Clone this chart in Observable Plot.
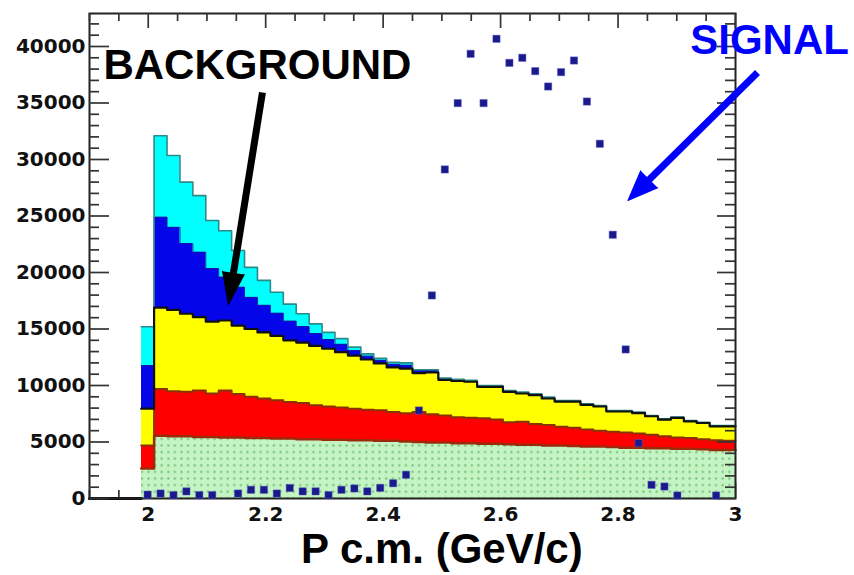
<!DOCTYPE html>
<html>
<head>
<meta charset="utf-8">
<script src="https://cdn.jsdelivr.net/npm/d3@7"></script>
<script src="https://cdn.jsdelivr.net/npm/@observablehq/plot@0.6"></script>
<style>
  html, body { margin: 0; padding: 0; background: #ffffff; }
  #chart { width: 854px; height: 575px; }
</style>
</head>
<body>
<div id="chart"></div>
<script>
// ---- Data (P c.m. histogram, 50 bins of 0.022 GeV/c from 1.9 to 3.0) ----
const binLo = [1.900, 1.922, 1.944, 1.966, 1.988, 2.010, 2.032, 2.054, 2.076, 2.098,
               2.120, 2.142, 2.164, 2.186, 2.208, 2.230, 2.252, 2.274, 2.296, 2.318,
               2.340, 2.362, 2.384, 2.406, 2.428, 2.450, 2.472, 2.494, 2.516, 2.538,
               2.560, 2.582, 2.604, 2.626, 2.648, 2.670, 2.692, 2.714, 2.736, 2.758,
               2.780, 2.802, 2.824, 2.846, 2.868, 2.890, 2.912, 2.934, 2.956, 2.978];
const binWidth = 0.022;

// stacked background components (bottom to top)
const bkgGreen  = [0,0,0,0, 2650, 5550,5500,5500,5450,5450, 5400,5400,5350,5350,5300,
                   5300,5250,5250,5200,5200, 5150,5150,5100,5100,5050, 5000,4950,4950,4900,4900,
                   4850,4850,4800,4750,4750, 4700,4700,4650,4600,4600, 4550,4500,4500,4450,4450,
                   4400,4400,4350,4300,4300];
const bkgRed    = [0,0,0,0, 2050, 4150,4000,3950,4100,3850, 4150,3850,3650,3500,3400,
                   3250,3200,3000,2950,2850, 2800,2700,2700,2550,2500, 2650,2500,2400,2300,2250,
                   2250,2150,1950,2050,1850, 1800,1650,1600,1500,1400, 1350,1350,1250,1200,1050,
                   1000,950,900,850,800];
const bkgYellow = [0,0,0,0, 3250, 7200,7200,6900,6500,6350, 6200,6050,6000,5850,5700,
                   5450,5350,5250,5100,4900, 4700,4450,4150,3950,3950, 3450,3700,3150,3200,3180,
                   2780,2880,2690,2490,2540, 2350,2230,2330,2190,2140, 1800,1850,1800,1630,1480,
                   1730,1480,1430,1240,1290];
const bkgBlue   = [0,0,0,0, 3800, 8000,7300,6200,5750,4700, 3850,3400,2800,2400,2000,
                   1700,1400,1100,800,700, 450,300,280,280,300, 200,170,100,100,80,
                   80,80,80,80,80, 80,60,60,60,60, 60,60,60,50,50,
                   50,50,50,50,50];
const bkgCyan   = [0,0,0,0, 3450, 7200,6350,5450,5000,4250, 4100,3250,2650,2200,1850,
                   1500,1150,850,650,500, 300,200,170,170,200, 100,80,50,50,40,
                   40,40,40,40,40, 40,30,30,30,30, 30,30,30,20,20,
                   20,20,20,20,20];

// signal points (one per bin, null = not shown)
const signal = [null,null,null,null, 340, 440,300,630,300,300, null,440,770,770,440,
                930,630,630,300,770, 890,630,940,1350,2100, 7790,17970,29120,34990,39350,
                34990,40680,38550,39000,37820, 36460,37730,38760,35130,31390, 23340,13190,4900,1210,1060,
                265,null,null,265,null];

// axes
const xTicks = [2, 2.2, 2.4, 2.6, 2.8, 3];
const yTicks = [0, 5000, 10000, 15000, 20000, 25000, 30000, 35000, 40000];
const xTitle = "P c.m. (GeV/c)";

// annotations
const labels = [
  {text: "BACKGROUND", x: 2.186, y: 38320, color: "#000000"},
  {text: "SIGNAL",     x: 3.058, y: 40530, color: "#0000ff"}
];
const arrows = [
  {x1: 2.1945, y1: 35930, x2: 2.1365, y2: 17170, rotate: 189, cut: 0.10, color: "#000000", head: 32, half: 11},
  {x1: 3.0375, y1: 37700, x2: 2.8169, y2: 26370, rotate: 225, cut: 0.12, color: "#0000ff", head: 30, half: 12}
];

// ---- styling ----
const layers = [bkgGreen, bkgRed, bkgYellow, bkgBlue, bkgCyan];
const layerFill = ["url(#dots)", "#ff0000", "#ffff00", "#0505ea", "#00ffff"];
const layerLine = ["#9a2a0a", "#8a3300", "#111111", "#1a1aa0", "#2a8a8a"];
const layerLineWidth = [2.5, 2, 2.2, 1, 1.6];
const lineOrder = [0, 1, 3, 4, 2];

// ---- build stacked rects and outlines ----
const cum = binLo.map(() => 0);
const rects = layers.map(() => []);
const tops = layers.map(() => []);
layers.forEach((vals, li) => {
  binLo.forEach((lo, i) => {
    const y1 = cum[i], y2 = cum[i] + vals[i];
    if (vals[i] > 0) rects[li].push({x1: lo, x2: lo + binWidth, y1, y2});
    cum[i] = y2;
    tops[li].push(y2);
  });
});
const firstBin = cum.findIndex(v => v > 0);
const outlines = tops.map(t => {
  const pts = [];
  for (let i = firstBin; i < binLo.length; i++) {
    pts.push({x: binLo[i], y: t[i]}, {x: binLo[i] + binWidth, y: t[i]});
  }
  return pts;
});
const zeroLine = [];
binLo.forEach((lo, i) => { if (cum[i] === 0) zeroLine.push({x: lo, y: 0}, {x: lo + binWidth, y: 0}); });

const signalPts = signal.map((v, i) => ({x: binLo[i] + binWidth / 2, y: v})).filter(d => d.y != null);

const xAll = d3.range(38, 61).map(i => +(i * 0.05).toFixed(2));
const isMajorX = v => Math.abs(v * 5 - Math.round(v * 5)) < 1e-6;
const xMajor = xAll.filter(isMajorX), xMinor = xAll.filter(v => !isMajorX(v));
const yAll = d3.range(0, 43000, 1000);
const yMajor = yAll.filter(v => v % 5000 === 0), yMinor = yAll.filter(v => v % 5000 !== 0);

const W = 854, H = 575, mL = 89, mR = 119, mT = 13, mB = 77;
const PW = W - mL - mR, PH = H - mT - mB;
const tickStyle = {stroke: "#333", strokeWidth: 1.7};

const marks = [
  // bottom ticks (hidden beneath fills like the reference)
  Plot.ruleX(xMinor, {x: d => d, insetTop: PH - 8, ...tickStyle}),
  Plot.ruleX(xMajor, {x: d => d, insetTop: PH - 15, ...tickStyle}),
  // stacked fills
  ...rects.map((r, li) => Plot.rect(r, {x1: "x1", x2: "x2", y1: "y1", y2: "y2", fill: layerFill[li], shapeRendering: "crispEdges"})),
  // outlines
  ...lineOrder.map(li => Plot.line(outlines[li], {x: "x", y: "y", stroke: layerLine[li], strokeWidth: layerLineWidth[li]})),
  Plot.line(zeroLine, {x: "x", y: "y", stroke: "#000", strokeWidth: 3}),
  // frame and inward ticks
  Plot.frame({stroke: "#222", strokeWidth: 2}),
  Plot.ruleY(yMinor, {y: d => d, insetRight: PW - 10, ...tickStyle}),
  Plot.ruleY(yMajor, {y: d => d, insetRight: PW - 20, ...tickStyle}),
  Plot.ruleY(yMinor, {y: d => d, insetLeft: PW - 10, ...tickStyle}),
  Plot.ruleY(yMajor, {y: d => d, insetLeft: PW - 18, ...tickStyle}),
  Plot.ruleX(xMinor, {x: d => d, insetBottom: PH - 8, ...tickStyle}),
  Plot.ruleX(xMajor, {x: d => d, insetBottom: PH - 15, ...tickStyle}),
  // axes labels
  Plot.axisY({ticks: yTicks, anchor: "left", tickSize: 0, tickPadding: 4, tickFormat: d => String(d),
              fontSize: 20, fontWeight: "bold", fontFamily: "DejaVu Sans", fill: "#111", label: null}),
  Plot.axisX({ticks: xTicks, anchor: "bottom", tickSize: 0, tickPadding: 8, tickFormat: d => String(+d.toFixed(1)),
              fontSize: 20, fontWeight: "bold", fontFamily: "DejaVu Sans", fill: "#111", label: null}),
  Plot.text([xTitle], {x: 2.5, frameAnchor: "bottom", dy: 51, text: d => d, lineAnchor: "middle",
                        fontSize: 42, fontWeight: "bold", fontFamily: "Liberation Sans, Arial, sans-serif", fill: "#000"}),
  // signal points
  Plot.dot(signalPts, {x: "x", y: "y", symbol: "square", r: 4.1, fill: "#1a1a8c", stroke: "#5a5ac0", strokeWidth: 1, strokeOpacity: 0.45}),
  // arrows
  ...arrows.map(a => Plot.link([a], {
    x1: "x1", y1: "y1",
    x2: d => d.x2 + d.cut * (d.x1 - d.x2), y2: d => d.y2 + d.cut * (d.y1 - d.y2),
    stroke: a.color, strokeWidth: 7, strokeLinecap: "butt"})),
  ...arrows.map(a => Plot.vector([a], {
    x: "x2", y: "y2", rotate: a.rotate, length: a.head, r: a.half, shape: "spike", anchor: "end",
    fill: a.color, stroke: a.color, strokeWidth: 1})),
  // annotation texts
  ...labels.map(l => Plot.text([l], {x: "x", y: "y", text: "text", fill: l.color, fontSize: 42, fontWeight: "bold",
                                      fontFamily: "Liberation Sans, Arial, sans-serif", lineAnchor: "middle"}))
];

const chart = Plot.plot({
  width: W, height: H,
  marginLeft: mL, marginRight: mR, marginTop: mT, marginBottom: mB,
  style: {background: "#ffffff"},
  x: {domain: [1.9, 3.0]},
  y: {domain: [0, 42920]},
  marks
});

const defs = document.createElementNS("http://www.w3.org/2000/svg", "defs");
defs.innerHTML = '<pattern id="dots" width="6.6" height="6.6" patternUnits="userSpaceOnUse">' +
  '<rect width="6.6" height="6.6" fill="#c4f4c4"/><rect x="2.3" y="2.3" width="2" height="2" fill="#6fbb6f"/></pattern>';
chart.insertBefore(defs, chart.firstChild);
document.getElementById("chart").appendChild(chart);
</script>
</body>
</html>
